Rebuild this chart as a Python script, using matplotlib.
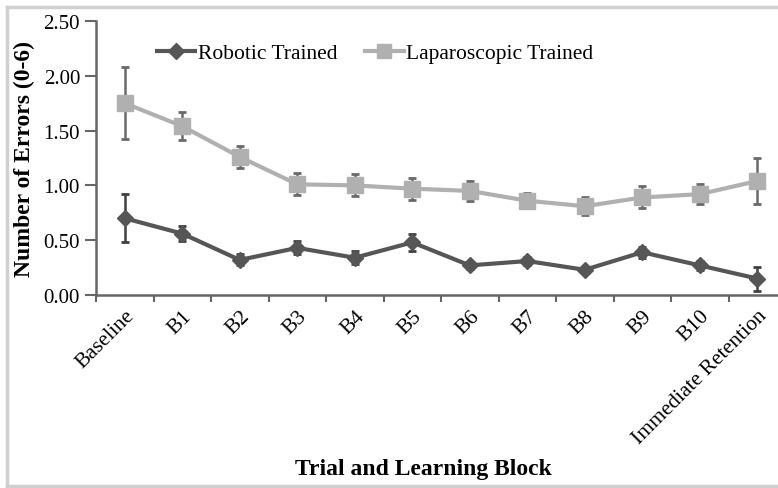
import numpy as np
import matplotlib
matplotlib.use('Agg')
import matplotlib.pyplot as plt
from matplotlib.lines import Line2D

plt.rcParams['font.family'] = ['Liberation Serif', 'DejaVu Serif']

blocks = ['Baseline', 'B1', 'B2', 'B3', 'B4', 'B5', 'B6', 'B7', 'B8', 'B9', 'B10',
          'Immediate Retention']

# mean errors and error bar half-widths per group
robotic = [0.70, 0.56, 0.32, 0.43, 0.34, 0.48, 0.27, 0.31, 0.23, 0.39, 0.27, 0.15]
robotic_err = [0.22, 0.07, 0.05, 0.06, 0.06, 0.075, 0.03, 0.04, 0.03, 0.05, 0.04, 0.11]
lap = [1.75, 1.54, 1.26, 1.01, 1.00, 0.97, 0.95, 0.86, 0.81, 0.89, 0.92, 1.04]
lap_err = [0.33, 0.13, 0.10, 0.10, 0.10, 0.10, 0.09, 0.07, 0.08, 0.10, 0.09, 0.21]

yticks = [0.0, 0.5, 1.0, 1.5, 2.0, 2.5]

dark = '#565656'
light = '#b0b0b0'

fig = plt.figure(figsize=(7.78, 4.89), dpi=100)
# axes runs slightly past the right edge, the last part is cut off
ax = fig.add_axes([96 / 778, 193 / 489, 690 / 778, 274 / 489])

x = np.arange(len(blocks))

ax.errorbar(x, lap, yerr=lap_err, fmt='none', ecolor='#6a6a6a', elinewidth=1.8,
            capsize=3, capthick=2, zorder=2)
l_lap, = ax.plot(x, lap, color=light, lw=3, marker='s', ms=11,
                 mfc=light, mec=light, zorder=3)
ax.errorbar(x, robotic, yerr=robotic_err, fmt='none', ecolor='#404040', elinewidth=1.8,
            capsize=3, capthick=2, zorder=4)
l_rob, = ax.plot(x, robotic, color=dark, lw=3, marker='D', ms=8.5,
                 mfc=dark, mec=dark, zorder=5)

ax.set_xlim(-0.5, 11.5)
ax.set_ylim(0, 2.5)
ax.set_yticks(yticks)
ax.set_yticklabels(['%.2f' % v for v in yticks], fontsize=15)
ax.set_xticks(x)
ax.set_xticklabels(blocks, rotation=45, ha='right', rotation_mode='anchor',
                   fontsize=15.5)
ax.set_xticks(np.arange(-0.5, 12, 1), minor=True)
ax.tick_params(axis='x', which='major', length=0, pad=8)
ax.tick_params(axis='x', which='minor', length=5, width=1.5, color='#666666',
               direction='out')
ax.tick_params(axis='y', length=8, width=1.5, color='#666666', direction='out')

for s in ['top', 'right']:
    ax.spines[s].set_visible(False)
for s in ['left', 'bottom']:
    ax.spines[s].set_color('#666666')
    ax.spines[s].set_linewidth(1.8)

ax.set_ylabel('Number of Errors (0-6)', fontsize=17, fontweight='bold', labelpad=6)
fig.text(423 / 778, 1 - 470 / 489, 'Trial and Learning Block', fontsize=17,
         fontweight='bold', ha='center', va='center')

ax.legend([l_rob, l_lap], ['Robotic Trained', 'Laparoscopic Trained'], ncol=2,
          loc='center left', bbox_to_anchor=(0.088, 0.883), frameon=False,
          fontsize=15.5, handlelength=1.8, handletextpad=0.1, columnspacing=1.3,
          borderpad=0, borderaxespad=0, markerscale=0.95)

# thin gray frame around the figure
for xs, ys in [([7, 778], [481, 481]), ([7, 7], [2, 481]), ([7, 778], [2, 2])]:
    fig.add_artist(Line2D([v / 778 for v in xs], [v / 489 for v in ys],
                          color='#d0d0d0', lw=2.5, transform=fig.transFigure))

fig.savefig('out.png', dpi=100, facecolor='white')
